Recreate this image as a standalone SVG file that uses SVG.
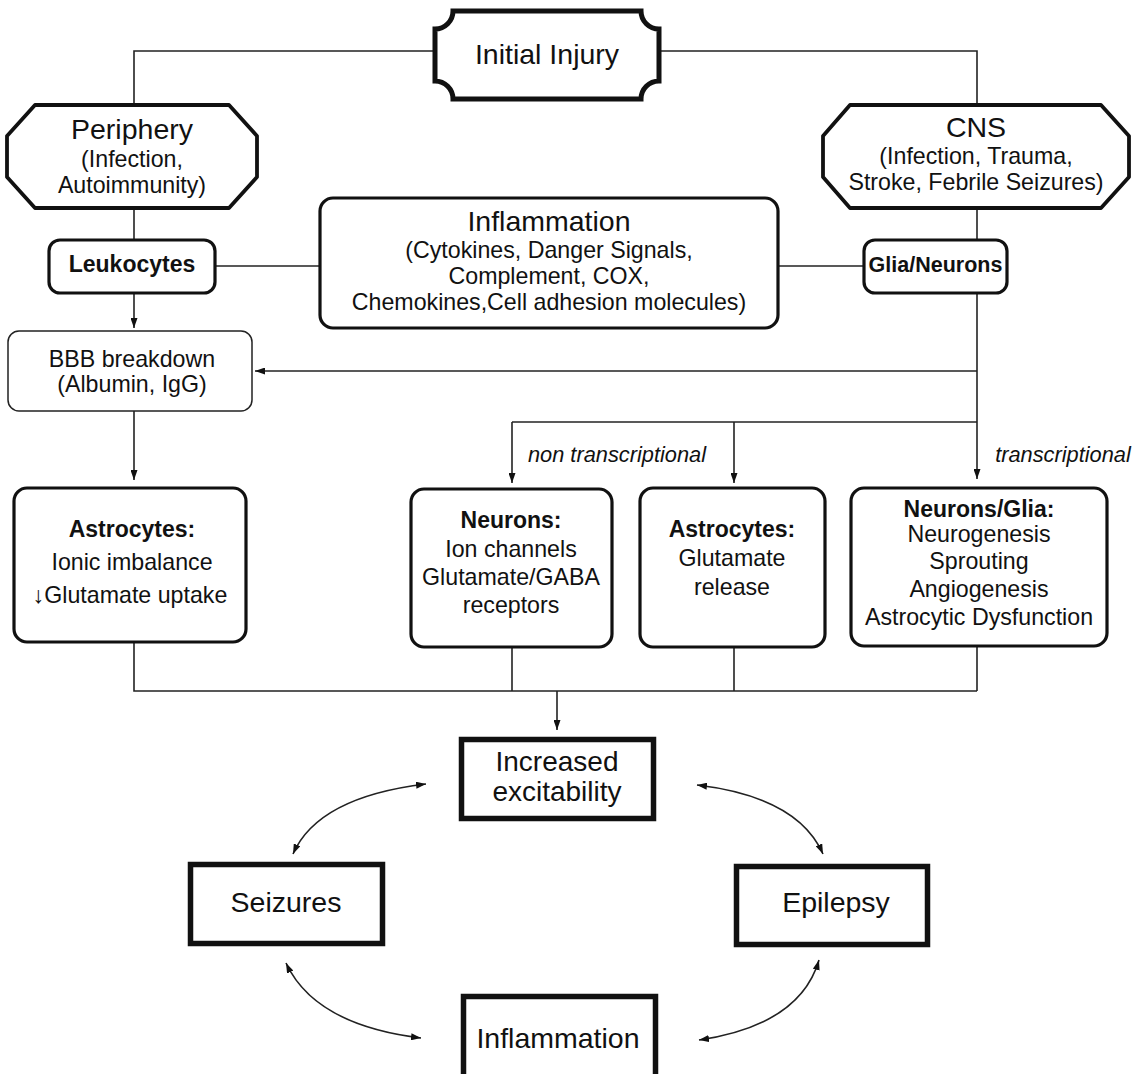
<svg xmlns="http://www.w3.org/2000/svg" width="1138" height="1074" viewBox="0 0 1138 1074">
<style>
text{font-family:"Liberation Sans",Arial,sans-serif;fill:#111;text-anchor:middle}
.t{font-size:28.5px}
.s{font-size:23.2px}
.b{font-size:23px;font-weight:bold}
.i{font-size:21.8px;font-style:italic}
.oct{fill:#fff;stroke:#111;stroke-width:3.8;stroke-linejoin:round}
.rb{fill:#fff;stroke:#111;stroke-width:3.2}
.thin{fill:#fff;stroke:#222;stroke-width:1.5}
.sq{fill:#fff;stroke:#111;stroke-width:5.5}
.c{fill:none;stroke:#222;stroke-width:1.6}
.a{marker-end:url(#ah)}
.d{marker-start:url(#ah);marker-end:url(#ah)}
</style>
<defs>
<marker id="ah" viewBox="0 0 10 7" refX="10" refY="3.5" markerWidth="10" markerHeight="7" markerUnits="userSpaceOnUse" orient="auto-start-reverse">
<path d="M0,0 L10,3.5 L0,7 z" fill="#111"/>
</marker>
</defs>
<rect width="1138" height="1074" fill="#fff"/>
<g id="connectors">
<path class="c" d="M134,105 V51 H435"/>
<path class="c" d="M659,51 H977 V105"/>
<path class="c" d="M134,208 V240"/>
<path class="c" d="M977,208 V240"/>
<path class="c" d="M215,266 H320"/>
<path class="c" d="M778,266 H864"/>
<path class="c a" d="M134,293 V328"/>
<path class="c a" d="M977,293 V479"/>
<path class="c a" d="M977,371 H255"/>
<path class="c" d="M977,422 H512"/>
<path class="c a" d="M512,422 V483"/>
<path class="c a" d="M734,422 V483"/>
<path class="c a" d="M134,411 V480"/>
<path class="c" d="M134,642 V691 H977"/>
<path class="c" d="M512,647 V691"/>
<path class="c" d="M734,647 V691"/>
<path class="c" d="M977,646 V691"/>
<path class="c a" d="M557,691 V730"/>
<path class="c d" d="M293,854 Q318,797 426,784"/>
<path class="c d" d="M823,854 Q798,797 697,785"/>
<path class="c d" d="M286,963 Q315,1025 421,1038"/>
<path class="c d" d="M819,960 Q800,1025 699,1040"/>
<text class="i" x="617" y="462">non transcriptional</text>
<text class="i" x="1063" y="462">transcriptional</text>
</g>
<g id="initial-injury">
<path d="M453,11 H641 A18,18 0 0 0 659,29 V81 A18,18 0 0 0 641,99 H453 A18,18 0 0 0 435,81 V29 A18,18 0 0 0 453,11 Z" fill="#fff" stroke="#111" stroke-width="5"/>
<text class="t" x="547" y="64">Initial Injury</text>
</g>
<g id="periphery">
<path class="oct" d="M35,105 H229 L257,136 V177 L229,208 H35 L7,177 V136 Z"/>
<text class="t" x="132" y="139">Periphery</text>
<text class="s" x="132" y="167">(Infection,</text>
<text class="s" x="132" y="193">Autoimmunity)</text>
</g>
<g id="cns">
<path class="oct" d="M850,105 H1101 L1129,136 V177 L1101,208 H850 L823,177 V136 Z"/>
<text class="t" x="976" y="137">CNS</text>
<text class="s" x="976" y="164">(Infection, Trauma,</text>
<text class="s" x="976" y="190">Stroke, Febrile Seizures)</text>
</g>
<g id="leukocytes">
<rect class="rb" x="49" y="240" width="166" height="53" rx="11"/>
<text class="b" x="132" y="272">Leukocytes</text>
</g>
<g id="inflammation-mid">
<rect class="rb" x="320" y="198" width="458" height="130" rx="13" stroke-width="3.6"/>
<text class="t" x="549" y="231">Inflammation</text>
<text class="s" x="549" y="258">(Cytokines, Danger Signals,</text>
<text class="s" x="549" y="284">Complement, COX,</text>
<text class="s" x="549" y="310">Chemokines,Cell adhesion molecules)</text>
</g>
<g id="glia-neurons">
<rect class="rb" x="864" y="240" width="143" height="53" rx="11"/>
<text class="b" x="935.5" y="272" style="font-size:21.5px">Glia/Neurons</text>
</g>
<g id="bbb">
<rect class="thin" x="8" y="331" width="244" height="80" rx="11"/>
<text class="s" x="132" y="367">BBB breakdown</text>
<text class="s" x="132" y="392">(Albumin, IgG)</text>
</g>
<g id="astrocytes-left">
<rect class="rb" x="14" y="488" width="232" height="154" rx="13"/>
<text class="b" x="132" y="537">Astrocytes:</text>
<text class="s" x="132" y="570">Ionic imbalance</text>
<text class="s" x="130" y="603">↓Glutamate uptake</text>
</g>
<g id="neurons">
<rect class="rb" x="411" y="489" width="201" height="158" rx="13"/>
<text class="b" x="511" y="528">Neurons:</text>
<text class="s" x="511" y="557">Ion channels</text>
<text class="s" x="511" y="585">Glutamate/GABA</text>
<text class="s" x="511" y="613">receptors</text>
</g>
<g id="astrocytes-mid">
<rect class="rb" x="640" y="488" width="185" height="159" rx="13"/>
<text class="b" x="732" y="537">Astrocytes:</text>
<text class="s" x="732" y="566">Glutamate</text>
<text class="s" x="732" y="595">release</text>
</g>
<g id="neurons-glia">
<rect class="rb" x="851" y="488" width="256" height="158" rx="13"/>
<text class="b" x="979" y="517">Neurons/Glia:</text>
<text class="s" x="979" y="542">Neurogenesis</text>
<text class="s" x="979" y="569">Sprouting</text>
<text class="s" x="979" y="597">Angiogenesis</text>
<text class="s" x="979" y="625">Astrocytic Dysfunction</text>
</g>
<g id="increased-excitability">
<rect class="sq" x="461.5" y="739.5" width="192" height="79"/>
<text class="t" x="557" y="771" style="font-size:28px">Increased</text>
<text class="t" x="557" y="801" style="font-size:28px">excitability</text>
</g>
<g id="seizures">
<rect class="sq" x="190.5" y="864.5" width="192" height="79"/>
<text class="t" x="286" y="912">Seizures</text>
</g>
<g id="epilepsy">
<rect class="sq" x="736.5" y="866.5" width="191" height="78"/>
<text class="t" x="836" y="912">Epilepsy</text>
</g>
<g id="inflammation-bottom">
<rect class="sq" x="463.5" y="996.5" width="192" height="90"/>
<text class="t" x="558" y="1048">Inflammation</text>
</g>
</svg>
